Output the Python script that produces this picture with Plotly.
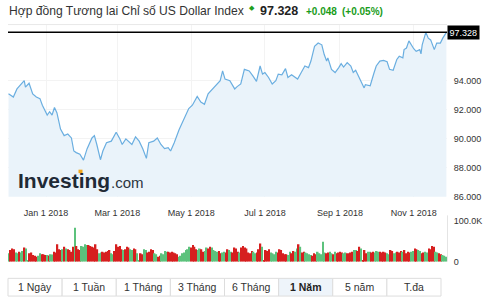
import plotly.graph_objects as go

# ---------------- data ----------------
dates = [
    "2017-12-01", "2017-12-05", "2017-12-08", "2017-12-12", "2017-12-14", "2017-12-15",
    "2017-12-18", "2017-12-21", "2017-12-24", "2017-12-27", "2017-12-29", "2018-01-02",
    "2018-01-04", "2018-01-06", "2018-01-08", "2018-01-10", "2018-01-13", "2018-01-16",
    "2018-01-19", "2018-01-22", "2018-01-24", "2018-01-26", "2018-01-29", "2018-02-01",
    "2018-02-04", "2018-02-08", "2018-02-10", "2018-02-12", "2018-02-15", "2018-02-17",
    "2018-02-20", "2018-02-24", "2018-02-28", "2018-03-03", "2018-03-05", "2018-03-08",
    "2018-03-11", "2018-03-13", "2018-03-16", "2018-03-19", "2018-03-22", "2018-03-25",
    "2018-03-27", "2018-03-31", "2018-04-03", "2018-04-06", "2018-04-09", "2018-04-12",
    "2018-04-14", "2018-04-17", "2018-04-21", "2018-04-25", "2018-04-29", "2018-05-02",
    "2018-05-06", "2018-05-09", "2018-05-12", "2018-05-15", "2018-05-19", "2018-05-23",
    "2018-05-25", "2018-05-27", "2018-05-29", "2018-06-02", "2018-06-06", "2018-06-08",
    "2018-06-11", "2018-06-14", "2018-06-18", "2018-06-21", "2018-06-24", "2018-06-27",
    "2018-06-29", "2018-07-01", "2018-07-04", "2018-07-07", "2018-07-10", "2018-07-12",
    "2018-07-15", "2018-07-18", "2018-07-20", "2018-07-23", "2018-07-26", "2018-07-28",
    "2018-07-31", "2018-08-03", "2018-08-06", "2018-08-08", "2018-08-11", "2018-08-14",
    "2018-08-17", "2018-08-19", "2018-08-21", "2018-08-22", "2018-08-25", "2018-08-28",
    "2018-08-31", "2018-09-02", "2018-09-04", "2018-09-07", "2018-09-10", "2018-09-12",
    "2018-09-14", "2018-09-17", "2018-09-19", "2018-09-21", "2018-09-22", "2018-09-26",
    "2018-09-29", "2018-10-01", "2018-10-04", "2018-10-07", "2018-10-10", "2018-10-12",
    "2018-10-15", "2018-10-18", "2018-10-20", "2018-10-23", "2018-10-24", "2018-10-26",
    "2018-10-28", "2018-10-31", "2018-11-01", "2018-11-03", "2018-11-06", "2018-11-07",
    "2018-11-08", "2018-11-11", "2018-11-13", "2018-11-15", "2018-11-18", "2018-11-20",
    "2018-11-23", "2018-11-25", "2018-11-28",
]
prices = [
    93.09, 92.87, 93.43, 93.82, 94.00, 93.55,
    93.82, 93.09, 92.87, 92.76, 92.31, 91.63,
    91.86, 91.63, 92.15, 91.79, 90.66, 90.21,
    90.32, 90.05, 89.15, 89.04, 88.93, 88.52,
    89.31, 90.05, 90.21, 89.60, 88.55, 89.15,
    89.72, 89.83, 90.44, 89.99, 89.60, 89.99,
    89.72, 89.60, 90.12, 89.83, 89.31, 88.64,
    89.72, 89.83, 90.05, 89.60, 89.31, 89.38,
    89.15, 89.72, 90.61, 91.29, 92.08, 92.31,
    92.91, 92.53, 92.37, 93.09, 93.43, 93.77,
    94.00, 94.67, 94.11, 94.00, 93.43, 93.59,
    93.77, 94.78, 94.67, 94.33, 93.95, 95.01,
    94.45, 94.56, 94.22, 93.77, 94.00, 94.45,
    94.40, 94.83, 94.22, 94.40, 94.22, 94.11,
    94.56, 95.01, 94.90, 95.35, 96.36, 96.59,
    96.47, 95.80, 95.35, 95.57, 94.78, 94.56,
    94.90, 95.17, 94.94, 95.24, 95.01, 94.56,
    94.72, 94.22, 93.88, 93.50, 93.72, 93.65,
    94.49, 95.01, 95.35, 95.39, 95.30, 94.78,
    94.72, 95.46, 95.68, 95.57, 96.14, 96.25,
    96.74, 96.25, 96.20, 96.02, 96.14, 95.84,
    96.47, 97.33, 96.93, 96.81, 96.14, 96.59,
    96.59, 96.93, 97.328,
]
last_price = 97.328

# volume per session (thousands) and direction (g = up, r = down)
volume_k = [
    20, 28, 32, 30, 22, 20, 24, 22, 26, 34, 32, 4, 20, 22, 16, 14, 12, 14, 20, 18,
    18, 16, 16, 15, 18, 17, 24, 22, 42, 30, 28, 30, 36, 32, 30, 28, 24, 36, 82, 38,
    30, 28, 38, 36, 42, 40, 40, 38, 36, 34, 42, 30, 20, 22, 24, 22, 24, 26, 28, 20,
    18, 26, 42, 36, 38, 30, 28, 30, 36, 34, 30, 28, 32, 30, 20, 4, 20, 18, 30, 28,
    22, 24, 30, 28, 20, 18, 12, 14, 20, 18, 26, 24, 24, 22, 24, 22, 20, 18, 12, 14,
    20, 22, 28, 30, 36, 34, 40, 36, 30, 28, 32, 30, 24, 26, 34, 32, 36, 34, 28, 26,
    24, 26, 20, 22, 24, 22, 30, 28, 24, 22, 34, 32,
    24, 22, 34, 38, 34, 32, 22, 20, 26, 24, 20, 22, 30, 44, 36, 4, 28, 26, 30, 22,
    20, 18, 24, 22, 30, 28, 20, 18, 18, 16, 24, 20, 26, 24, 32, 42, 36, 22, 24, 22,
    20, 18, 16, 14, 20, 18, 24, 20, 18, 48, 22, 20, 22, 24, 20, 18, 24, 20, 22, 24,
    22, 20, 22, 20, 20, 22, 24, 28, 28, 26, 36, 32, 4, 28, 20, 24, 24, 22, 24, 22,
    26, 24, 24, 22, 24, 22, 20, 18, 28, 26, 20, 22, 24, 22, 26, 24, 28, 20, 24, 22,
    24, 26, 32, 30, 28, 26, 20, 22, 24, 22, 32, 30, 38, 36, 24, 22, 20, 18, 16, 14,
    12,
]
volume_dir = (
    "grrrggrggrggrrrrrggrrrgrggrrrrrgrgrrrrgrrrggggrrrrrrggrrrrrggrrrrrgrrrggrrggrrggrrrrggrrggggrrrrrr"
    "gggggggrrrrggrrggrrggggrrggrrggrr"
    "rrgrrrrrrrggrrrgrrrrggggrrrrrrggrrggrgrrggggrrrgggggrrggrgrrrrggrrrrggrrgrrrggrrgggrrrrggrrggrrrgrrrrggrrggrrggrrrrggrrggg"
)

x_tick_vals = ["2018-01-01", "2018-03-01", "2018-05-01", "2018-07-01", "2018-09-01", "2018-11-01"]
x_tick_text = ["Jan 1 2018", "Mar 1 2018", "May 1 2018", "Jul 1 2018", "Sep 1 2018", "Nov 1 2018"]
y_tick_vals = [86, 88, 90, 92, 94]
y_tick_text = ["86.000", "88.000", "90.000", "92.000", "94.000"]
range_buttons = ["1 Ngày", "1 Tuần", "1 Tháng", "3 Tháng", "6 Tháng", "1 Năm", "5 năm", "T.đa"]
selected_button = "1 Năm"

title_text = "Hợp đồng Tương lai Chỉ số US Dollar Index"
change_text = "+0.048"
change_pct_text = "(+0.05%)"

# ---------------- styling ----------------
W, H = 490, 304
def px(x):
    return x / W
def py(y):
    return 1 - y / H

GREEN = "#5cc27c"
RED = "#d61f1f"
TXT = "#333333"
FONT = "Liberation Sans, Arial, sans-serif"

n_vol = min(len(volume_k), len(volume_dir))
vol_vals = [v * 1000 for v in volume_k[:n_vol]]
vol_cols = [GREEN if c == "g" else RED for c in volume_dir[:n_vol]]

fig = go.Figure()
fig.add_trace(go.Scatter(
    x=dates, y=prices, mode="lines",
    line=dict(color="#6aaee0", width=1.2),
    fill="tozeroy", fillcolor="#eaf3fa",
    xaxis="x", yaxis="y", hoverinfo="skip",
))
fig.add_trace(go.Bar(
    x=list(range(n_vol)), y=vol_vals,
    marker=dict(color=vol_cols, line=dict(width=0)),
    xaxis="x2", yaxis="y2", hoverinfo="skip",
))

xdom = [px(8), px(447)]
fig.update_layout(
    width=W, height=H,
    margin=dict(l=0, r=0, t=0, b=0),
    paper_bgcolor="white", plot_bgcolor="white",
    showlegend=False, bargap=0.12,
    font=dict(family=FONT, color=TXT),
    xaxis=dict(
        domain=xdom, anchor="y", type="date",
        range=["2017-11-30 14:00", "2018-11-28 12:00"],
        tickvals=x_tick_vals, ticktext=x_tick_text,
        ticks="outside", ticklen=7, tickcolor="rgba(0,0,0,0)",
        tickfont=dict(size=9, color=TXT, family=FONT),
        showgrid=True, gridcolor="#f3f3f3", zeroline=False, showline=False,
    ),
    yaxis=dict(
        domain=[py(200), py(25)], anchor="x", side="right",
        range=[86, 86 + 175 / 14.75],
        tickvals=y_tick_vals, ticktext=y_tick_text,
        ticks="outside", ticklen=4, tickcolor="rgba(0,0,0,0)",
        tickfont=dict(size=9, color=TXT, family=FONT),
        showgrid=True, gridcolor="#f3f3f3", zeroline=False, showline=False,
    ),
    xaxis2=dict(
        domain=xdom, anchor="y2", range=[-0.5, n_vol - 0.5], visible=False,
    ),
    yaxis2=dict(
        domain=[py(266), py(219)], anchor="x2", side="right",
        range=[0, 112000], tickvals=[0, 100000], ticktext=["0", "100.0K"],
        ticks="outside", ticklen=4, tickcolor="rgba(0,0,0,0)",
        tickfont=dict(size=9, color=TXT, family=FONT),
        showgrid=False, zeroline=False, showline=False,
    ),
)

shapes = []
# current price line
shapes.append(dict(type="line", xref="x domain", yref="y", x0=0, x1=1,
                   y0=last_price, y1=last_price, line=dict(color="black", width=1.5)))
# faint frame lines
shapes.append(dict(type="line", xref="paper", yref="paper", x0=px(8), x1=px(447),
                   y0=py(25), y1=py(25), line=dict(color="#e8e8e8", width=1)))
shapes.append(dict(type="line", xref="paper", yref="paper", x0=px(447.5), x1=px(447.5),
                   y0=py(219), y1=py(266), line=dict(color="#e4e4e4", width=1)))
# range buttons
bx0, bx1, by0, by1 = 8, 441, 283, 301
bw = (bx1 - bx0) / len(range_buttons)
annotations = []
for i, lab in enumerate(range_buttons):
    sel = lab == selected_button
    shapes.append(dict(type="rect", xref="paper", yref="paper",
                       x0=px(bx0 + i * bw), x1=px(bx0 + (i + 1) * bw),
                       y0=py(by1), y1=py(by0),
                       fillcolor="#eef4fa" if sel else "white",
                       line=dict(color="#dddddd", width=1), layer="below"))
    annotations.append(dict(xref="paper", yref="paper",
                            x=px(bx0 + (i + 0.5) * bw), y=py((by0 + by1) / 2),
                            text=f"<b>{lab}</b>" if sel else lab, showarrow=False,
                            font=dict(size=10.5, color="#222" if sel else TXT, family=FONT),
                            xanchor="center", yanchor="middle"))

# price tag
annotations.append(dict(xref="paper", yref="y", x=px(447), y=last_price,
                        text="97.328", showarrow=False, xanchor="left", yanchor="middle",
                        bgcolor="black", borderpad=1.5,
                        font=dict(size=9, color="white", family=FONT)))
# title line
annotations.append(dict(xref="paper", yref="paper", x=px(7), y=py(11), text=title_text,
                        showarrow=False, xanchor="left", yanchor="middle",
                        font=dict(size=12.1, color=TXT, family=FONT)))
annotations.append(dict(xref="paper", yref="paper", x=px(252), y=py(8), text="◆",
                        showarrow=False, xanchor="center", yanchor="middle",
                        font=dict(size=7, color="#1ea01e", family="DejaVu Sans")))
annotations.append(dict(xref="paper", yref="paper", x=px(258), y=py(11), text="<b>97.328</b>",
                        showarrow=False, xanchor="left", yanchor="middle",
                        font=dict(size=12.5, color="#222", family=FONT)))
annotations.append(dict(xref="paper", yref="paper", x=px(304), y=py(12), text=f"<b>{change_text}</b>",
                        showarrow=False, xanchor="left", yanchor="middle",
                        font=dict(size=10, color="#1a9c1a", family=FONT)))
annotations.append(dict(xref="paper", yref="paper", x=px(340), y=py(12), text=f"<b>{change_pct_text}</b>",
                        showarrow=False, xanchor="left", yanchor="middle",
                        font=dict(size=10, color="#1a9c1a", family=FONT)))
# watermark logo
annotations.append(dict(xref="paper", yref="paper", x=px(16), y=py(184), text="<b>Investing</b>",
                        showarrow=False, xanchor="left", yanchor="middle",
                        font=dict(size=21, color="#1f2a36", family=FONT)))
annotations.append(dict(xref="paper", yref="paper", x=px(109), y=py(186), text=".com",
                        showarrow=False, xanchor="left", yanchor="middle",
                        font=dict(size=15, color="#2a3540", family=FONT)))
# orange dot of the logo's "i"
shapes.append(dict(type="rect", xref="paper", yref="paper",
                   x0=px(78.5), x1=px(82.5), y0=py(176), y1=py(172.5),
                   fillcolor="#f4a81c", line=dict(width=0)))

fig.update_layout(shapes=shapes, annotations=annotations)
fig.write_html("out.html")
